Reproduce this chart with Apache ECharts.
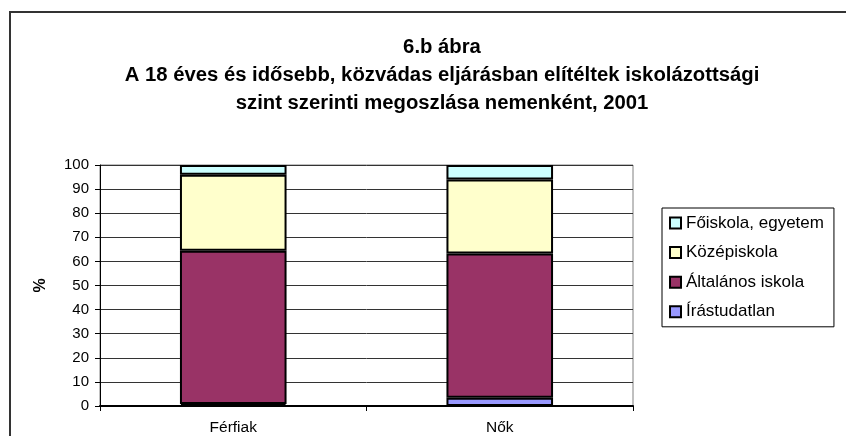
<!DOCTYPE html>
<html>
<head>
<meta charset="utf-8">
<script src="https://cdn.jsdelivr.net/npm/echarts@6/dist/echarts.min.js"></script>
<style>
  html, body { margin: 0; padding: 0; background: #fff; }
  #chart { width: 846px; height: 436px; }
</style>
</head>
<body>
<div id="chart"></div>
<script>
// kategóriák és adatok (%)
const categories = ["Férfiak", "Nők"];
const irastudatlan = [0.8, 3.4];
const altalanos = [63.6, 59.9];
const kozep = [31.6, 30.7];
const foiskola = [4.0, 6.0];
const yTicks = { min: 0, max: 100, interval: 10 };

const titleLines = [
  "6.b ábra",
  "A 18 éves és idősebb, közvádas eljárásban elítéltek iskolázottsági",
  "szint szerinti megoszlása nemenként, 2001",
];

const font = "Arial, 'Liberation Sans', sans-serif";
const barBorder = { borderColor: "#000", borderWidth: 2 };

function makeSeries(name, data, color) {
  return {
    name: name,
    type: "bar",
    stack: "total",
    barWidth: "40%",
    data: data,
    itemStyle: Object.assign({ color: color }, barBorder),
    animation: false,
  };
}

const chart = echarts.init(document.getElementById("chart"));
chart.setOption({
  backgroundColor: "#fff",
  title: {
    text: titleLines.join("\n"),
    left: 437,
    top: 28,
    textAlign: "center",
    textStyle: {
      fontFamily: font,
      fontSize: 20.3,
      fontWeight: "bold",
      color: "#000",
      lineHeight: 28,
    },
  },
  legend: {
    orient: "vertical",
    left: 662,
    top: 208,
    width: 173,
    padding: [6, 10, 6, 7],
    itemGap: 11.6,
    itemWidth: 11,
    itemHeight: 11,
    icon: "rect",
    borderColor: "#000",
    borderWidth: 1,
    backgroundColor: "#fff",
    data: ["Főiskola, egyetem", "Középiskola", "Általános iskola", "Írástudatlan"],
    textStyle: { fontFamily: font, fontSize: 17, color: "#000", lineHeight: 18 },
  },
  grid: {
    left: 100,
    right: 213,
    top: 165,
    bottom: 30,
    show: true,
    borderColor: "#808080",
    borderWidth: 1,
  },
  xAxis: {
    type: "category",
    data: categories,
    axisLine: { lineStyle: { color: "#000", width: 2 } },
    axisTick: { show: true, length: 5, lineStyle: { color: "#000" } },
    axisLabel: { fontFamily: font, fontSize: 15.5, color: "#000", margin: 14 },
  },
  yAxis: {
    type: "value",
    min: yTicks.min,
    max: yTicks.max,
    interval: yTicks.interval,
    name: "%",
    nameLocation: "middle",
    nameGap: 51,
    nameRotate: 90,
    nameTextStyle: { fontFamily: font, fontSize: 16, fontWeight: "bold", color: "#000" },
    axisLine: { show: true, lineStyle: { color: "#000", width: 1 } },
    axisTick: { show: true, length: 5, lineStyle: { color: "#000" } },
    axisLabel: { fontFamily: font, fontSize: 15, color: "#000", margin: 11 },
    splitLine: { show: true, lineStyle: { color: "#333", width: 1 } },
  },
  series: [
    makeSeries("Írástudatlan", irastudatlan, "#9999FF"),
    makeSeries("Általános iskola", altalanos, "#993366"),
    makeSeries("Középiskola", kozep, "#FFFFCC"),
    makeSeries("Főiskola, egyetem", foiskola, "#CCFFFF"),
  ],
  graphic: [
    {
      type: "polyline",
      shape: { points: [[10, 436], [10, 12], [846, 12]] },
      style: { stroke: "#333", lineWidth: 2, fill: null },
      silent: true,
    },
  ],
});
</script>
</body>
</html>
